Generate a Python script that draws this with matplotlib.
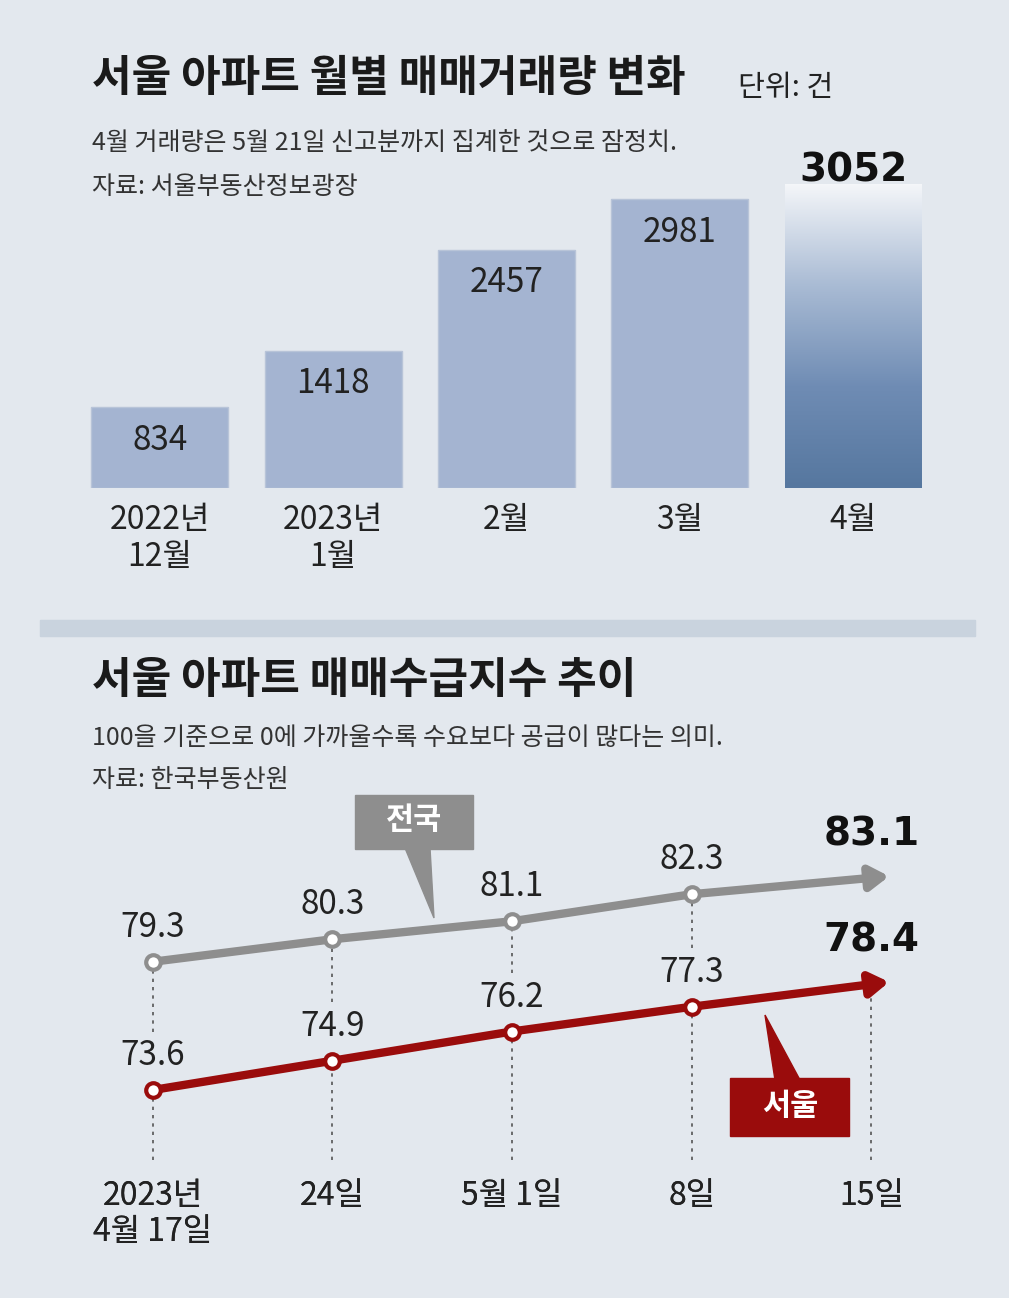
import numpy as np
import matplotlib.pyplot as plt
from matplotlib.patches import Rectangle, Polygon

W, H = 1009, 1298
plt.rcParams['font.family'] = ['Noto Sans CJK KR', 'DejaVu Sans']

# monthly deals
MONTHS = ['2022년\n12월', '2023년\n1월', '2월', '3월', '4월']
DEALS = [834, 1418, 2457, 2981, 3052]

# supply-demand index
DATES = ['2023년\n4월 17일', '24일', '5월 1일', '8일', '15일']
NATION = [79.3, 80.3, 81.1, 82.3, 83.1]
SEOUL = [73.6, 74.9, 76.2, 77.3, 78.4]

BG = '#e3e8ee'
BAR = '#a4b4d1'
DARK = '#56779f'
GRAY = '#8e8e8e'
RED = '#9a0c0c'


def px(fig, x, y, s, **kw):
    """Put text at pixel position (top-left origin)."""
    fig.text(x / W, 1 - y / H, s, **kw)


def axes_px(fig, left, top, right, bottom):
    return fig.add_axes([left / W, 1 - bottom / H, (right - left) / W, (bottom - top) / H])


def draw_bars(fig):
    ax = axes_px(fig, 73, 139, 940, 488)
    ax.set_xlim(-0.5, 4.5)
    ax.set_ylim(0, 3600)
    ax.axis('off')
    ax.bar(range(4), DEALS[:4], width=0.79, color=BAR, edgecolor='#b8c4d8', linewidth=1)
    # gradient bar for the latest month
    grad = np.linspace(0, 1, 256).reshape(-1, 1)
    cmap = plt.matplotlib.colors.LinearSegmentedColormap.from_list(
        'g', [DARK, '#6f8cb4', '#a9bbd4', '#f4f6f9'])
    ax.imshow(grad, extent=[4 - 0.395, 4 + 0.395, 0, DEALS[4] + 80], origin='lower',
              cmap=cmap, aspect='auto', zorder=2)
    for i, v in enumerate(DEALS):
        if i < 4:
            ax.text(i, v - 160, str(v), ha='center', va='top', fontsize=24, color='#222222')
        else:
            ax.text(i, v + 30, str(v), ha='center', va='bottom', fontsize=28,
                    fontweight='bold', color='#111111', family='DejaVu Sans')
        ax.text(i, -170, MONTHS[i], ha='center', va='top', fontsize=23,
                color='#222222', linespacing=1.2)


def draw_lines(fig):
    ax = axes_px(fig, 63, 811, 961, 1171)
    ax.set_xlim(-0.5, 4.5)
    ax.set_ylim(70, 86)
    ax.axis('off')
    x = np.arange(5)
    for xi, yi in zip(x, SEOUL):
        ax.plot([xi, xi], [70.5, yi], ls=(0, (2, 3)), color='#555555', lw=1.2, zorder=1)
    for xi, yi in zip(x[:4], NATION):
        ax.plot([xi, xi], [SEOUL[xi] + 2.6, yi], ls=(0, (2, 3)), color='#555555', lw=1.2, zorder=1)
    for data, col in [(NATION, GRAY), (SEOUL, RED)]:
        ax.plot(x[:4], data[:4], color=col, lw=6, zorder=2, solid_capstyle='butt')
        ax.annotate('', xy=(4.1, data[4]), xytext=(3, data[3]),
                    arrowprops=dict(arrowstyle='-|>,head_length=1.1,head_width=0.7',
                                    color=col, lw=6, shrinkA=0, shrinkB=0), zorder=2)
        ax.scatter(x[:4], data[:4], s=110, facecolor='white', edgecolor=col,
                   linewidth=3, zorder=3)
        for i in range(4):
            ax.text(i, data[i] + 0.75, f'{data[i]}', ha='center', va='bottom',
                    fontsize=24, color='#222222')
        ax.text(4, data[4] + 1.0, f'{data[4]}', ha='center', va='bottom',
                fontsize=28, fontweight='bold', color='#111111', family='DejaVu Sans')
        for i, d in enumerate(DATES):
            ax.text(i, 69.6, d, ha='center', va='top', fontsize=23, color='#222222',
                    linespacing=1.15)


def draw_callouts(fig):
    ov = fig.add_axes([0, 0, 1, 1])
    ov.set_xlim(0, W)
    ov.set_ylim(H, 0)
    ov.axis('off')
    ov.add_patch(Rectangle((355, 795), 118, 54, color='#8e8e8e'))
    ov.add_patch(Polygon([[405, 848], [430, 848], [434, 918]], color='#8e8e8e'))
    ov.text(414, 820, '전국', ha='center', va='center', fontsize=22, color='white', fontweight='bold')
    ov.add_patch(Rectangle((730, 1078), 119, 58, color=RED))
    ov.add_patch(Polygon([[765, 1015], [775, 1080], [800, 1080]], color=RED))
    ov.text(790, 1106, '서울', ha='center', va='center', fontsize=22, color='white', fontweight='bold')
    ov.add_patch(Rectangle((40, 620), 935, 16, color='#c9d3de'))


def main():
    fig = plt.figure(figsize=(W / 100, H / 100), dpi=100, facecolor=BG)
    px(fig, 92, 78, '서울 아파트 월별 매매거래량 변화', fontsize=31, fontweight='bold',
       va='center', color='#1a1a1a')
    px(fig, 738, 88, '단위: 건', fontsize=21, va='center', color='#222222')
    px(fig, 92, 143, '4월 거래량은 5월 21일 신고분까지 집계한 것으로 잠정치.', fontsize=18,
       va='center', color='#333333')
    px(fig, 92, 187, '자료: 서울부동산정보광장', fontsize=18, va='center', color='#333333')
    px(fig, 92, 680, '서울 아파트 매매수급지수 추이', fontsize=31, fontweight='bold',
       va='center', color='#1a1a1a')
    px(fig, 92, 738, '100을 기준으로 0에 가까울수록 수요보다 공급이 많다는 의미.', fontsize=18,
       va='center', color='#333333')
    px(fig, 92, 780, '자료: 한국부동산원', fontsize=18, va='center', color='#333333')
    draw_bars(fig)
    draw_lines(fig)
    draw_callouts(fig)
    fig.savefig('out.png', dpi=100, facecolor=BG)


if __name__ == '__main__':
    main()
